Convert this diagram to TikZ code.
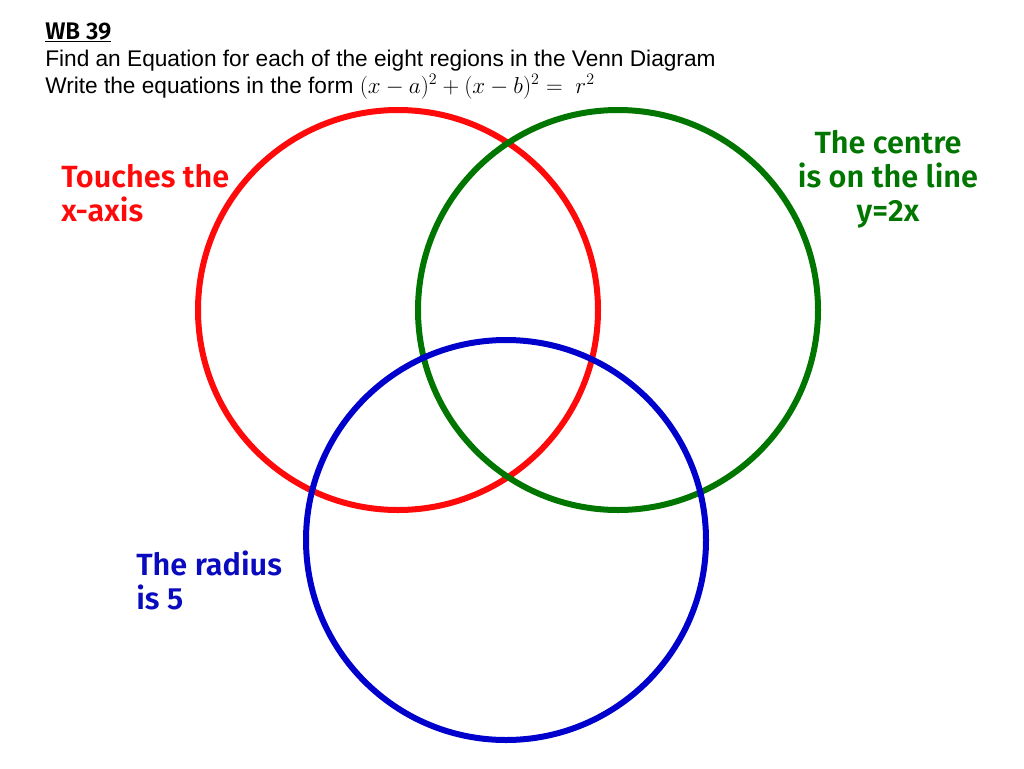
\documentclass[tikz,border=0pt]{standalone}
\usepackage{fontspec}
\setmainfont{Liberation Sans}
\newfontfamily\labelfont{Fira Sans}[UprightFont=* SemiBold]
\definecolor{vred}{RGB}{255,10,10}
\definecolor{vgreen}{RGB}{0,118,0}
\definecolor{vblue}{RGB}{0,0,205}
\definecolor{tblue}{RGB}{10,10,190}
\tikzset{
  ring/.style={line width=4.5pt},
  lbl/.style={font=\labelfont\fontsize{23}{25.5}\selectfont, inner sep=0pt, align=left},
  hdr/.style={font=\fontsize{17}{20}\selectfont, inner sep=0pt, anchor=base west}
}
\begin{document}
\begin{tikzpicture}[x=0.75pt,y=-0.75pt]
\useasboundingbox (0,0) rectangle (1024,768);
\node[hdr, font=\labelfont\fontsize{18}{20}\selectfont] (wb) at (45,39) {\underline{WB 39}};
\node[hdr] (l1) at (45,66) {Find an Equation for each of the eight regions in the Venn Diagram};
\node[hdr] (l2) at (45,93) {Write the equations in the form $(x-a)^2+(x-b)^2=\;r^2$};
\draw[ring, vred] (398,310) circle[radius=200];
\draw[ring, vgreen] (618,310) circle[radius=200];
\draw[ring, vblue] (506,540) circle[radius=200];
\node[lbl, text=vred, anchor=north west] (t1) at (61,164) {Touches the\\x-axis};
\node[lbl, text=vgreen, align=center, anchor=north] (t2) at (888,130) {The centre\\is on the line\\y=2x};
\node[lbl, text=tblue, anchor=north west] (t3) at (136,551) {The radius\\is 5};
\end{tikzpicture}
\end{document}
